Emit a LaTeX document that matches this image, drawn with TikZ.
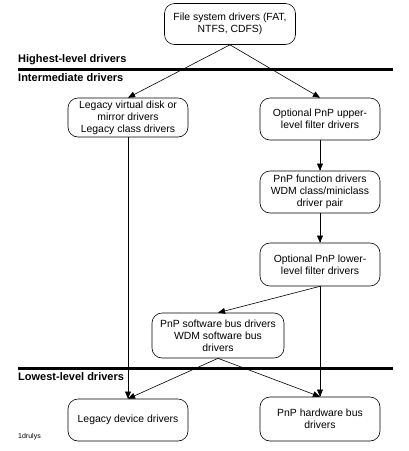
\documentclass[tikz,border=0pt]{standalone}
\usepackage{fontspec}
\setmainfont{Liberation Sans}
\usepackage{tikz}
\usetikzlibrary{arrows}
\usetikzlibrary{positioning}

\begin{document}
\begin{tikzpicture}[x=1pt, y=-1pt,
% define styles here
driverbox/.style={rectangle, draw, line width=0.6pt, rounded corners=10pt, minimum width=120pt, minimum height=42pt, align=center, inner sep=0pt, font=\fontsize{10.4}{12}\selectfont},
levellabel/.style={anchor=west, inner sep=0pt, font=\fontsize{11}{12}\selectfont\bfseries},
levelline/.style={line width=3pt},
flow/.style={-triangle 45, line width=0.6pt}
]
\useasboundingbox (0, 0) rectangle (409, 451);

\node[driverbox, minimum width=131pt, minimum height=41pt] (fs) at (230, 24) {File system drivers (FAT,\\NTFS, CDFS)};

\node[levellabel] (highest) at (18, 60) {Highest-level drivers};
\draw[levelline] (18, 69) -- (393, 69);
\node[levellabel] (intermediate) at (18, 78) {Intermediate drivers};

\node[driverbox, minimum height=39pt] (legvirt) at (128, 117.5) {Legacy virtual disk or\\mirror drivers\\Legacy class drivers};
\node[driverbox] (upper) at (320, 119) {Optional PnP upper-\\level filter drivers};
\node[driverbox] (pnpfunc) at (320, 192) {PnP function drivers\\WDM class/miniclass\\driver pair};
\node[driverbox, minimum height=43pt] (lower) at (320, 264.5) {Optional PnP lower-\\level filter drivers};
\node[driverbox, minimum width=132pt, minimum height=45pt] (swbus) at (218, 335.5) {PnP software bus drivers\\WDM software bus\\drivers};

\draw[levelline] (18, 368) -- (393, 368);
\node[levellabel] (lowest) at (18, 377) {Lowest-level drivers};

\node[driverbox] (legdev) at (128, 420) {Legacy device drivers};
\node[driverbox, minimum height=44pt] (hwbus) at (320, 419) {PnP hardware bus\\drivers};

\node[anchor=west, inner sep=0pt, font=\fontsize{7}{8}\selectfont] (tag) at (18, 437) {1drulys};

\draw[flow] (fs.south) -- (legvirt.north);
\draw[flow] (fs.south) -- (upper.north);
\draw[flow] (upper.south) -- (pnpfunc.north);
\draw[flow] (pnpfunc.south) -- (lower.north);
\draw[flow] (lower.south) -- (swbus.north);
\draw[flow] (lower.south) -- (hwbus.north);
\draw[flow] (legvirt.south) -- (legdev.north);
\draw[flow] (swbus.south) -- (legdev.north);
\draw[flow] (swbus.south) -- (hwbus.north);
\end{tikzpicture}
\end{document}
